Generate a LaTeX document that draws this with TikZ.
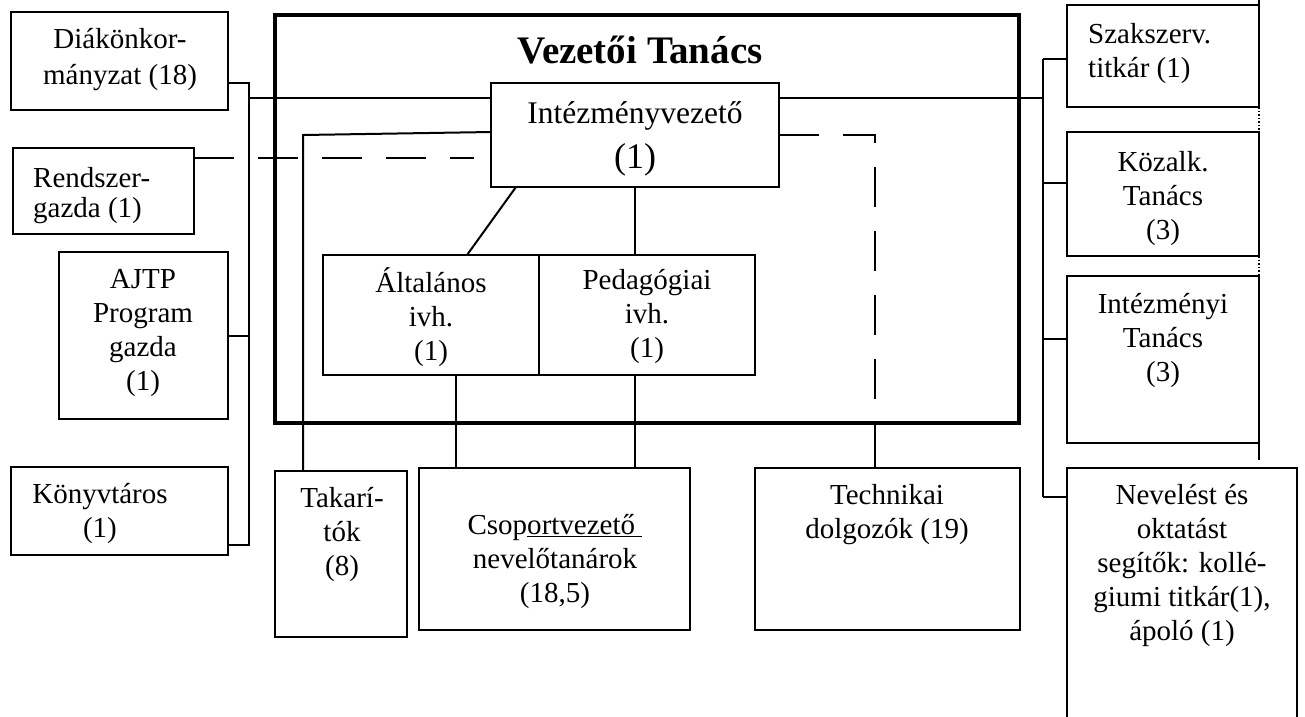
\documentclass[tikz,border=0pt]{standalone}
\usepackage{fontspec}
\setmainfont{Liberation Serif}
\usetikzlibrary{calc}
\newcommand\bxstrut{\rule[-0.5em]{0pt}{1.45em}}
\begin{document}
\begin{tikzpicture}[x=1pt,y=-1pt,
  box/.style={draw, line width=2pt, inner sep=0pt, outer sep=0pt},
  bigbox/.style={draw, line width=3.5pt, inner sep=0pt, outer sep=0pt},
  txt/.style={align=center, inner sep=0pt, font=\fontsize{29}{34}\selectfont,
    execute at begin node=\bxstrut, execute at end node=\bxstrut, yshift=-5pt},
  conn/.style={line width=2pt},
  wdash/.style={line width=2pt, dash pattern=on 40pt off 24pt},
  edge/.style={line width=1.5pt}
]
\useasboundingbox (0,0) rectangle (1305,716);

% ---- boxes
\node[bigbox, minimum width=744, minimum height=408] (vt) at (647,219) {};
\node[box, minimum width=217, minimum height=98]  (dk) at (119.5,61) {};
\node[box, minimum width=181, minimum height=86]  (rg) at (103.5,191) {};
\node[box, minimum width=169, minimum height=167] (aj) at (143.5,335.5) {};
\node[box, minimum width=217, minimum height=88]  (kv) at (119.5,511) {};
\node[box, minimum width=288, minimum height=104, fill=white] (iv) at (635,135) {};
\node[box, minimum width=216, minimum height=120] (ah) at (431,315) {};
\node[box, minimum width=216, minimum height=120] (pe) at (647,315) {};
\node[box, minimum width=132, minimum height=166] (tk) at (340.5,554) {};
\node[box, minimum width=271, minimum height=162] (cs) at (554.5,548.5) {};
\node[box, minimum width=265, minimum height=162] (te) at (887,548.5) {};
\node[box, minimum width=192, minimum height=102] (sz) at (1163,56) {};
\node[box, minimum width=192, minimum height=124] (ko) at (1163,194) {};
\node[box, minimum width=192, minimum height=167] (it) at (1163,359.5) {};
\node[box, minimum width=230, minimum height=252] (nv) at (1182,594) {};

% ---- texts
\node[inner sep=0pt, font=\fontsize{39}{46}\selectfont\bfseries] (vt-t) at (640,50) {Vezetői Tanács};
\node[txt, font=\fontsize{29}{36}\selectfont] (dk-t) at (120,59) {Diákönkor-\\mányzat (18)};
\node[txt, font=\fontsize{29}{30}\selectfont, align=left, anchor=west] (rg-t) at (33,195) {Rendszer-\\gazda (1)};
\node[txt] (aj-t) at (143,332) {AJTP\\Program\\gazda\\(1)};
\node[txt] (kv-t) at (100,513) {Könyvtáros\\(1)};
\node[txt, font=\fontsize{31.5}{38}\selectfont, yshift=2pt] (iv-t1) at (635,113) {Intézményvezető};
\node[txt, font=\fontsize{36}{43}\selectfont, yshift=2pt] (iv-t2) at (635,157) {(1)};
\node[txt, yshift=2pt] (ah-t) at (431,318) {Általános\\ivh.\\(1)};
\node[txt, yshift=2pt] (pe-t) at (647,318) {Pedagógiai\\ivh.\\(1)};
\node[txt] (tk-t) at (342,534) {Takarí-\\tók\\(8)};
\node[txt] (cs-t) at (555,561) {Csop\underline{ortvezető\ }\\nevelőtanárok\\(18,5)};
\node[txt] (te-t) at (887,514) {Technikai\\dolgozók (19)};
\node[txt, align=left, anchor=west] (sz-t) at (1088,53) {Szakszerv.\\titkár (1)};
\node[txt] (ko-t) at (1163,198) {Közalk.\\Tanács\\(3)};
\node[txt] (it-t) at (1163,340) {Intézményi\\Tanács\\(3)};
\node[txt] (nv-t) at (1182,565) {Nevelést és\\oktatást\\segítők: kollé-\\giumi titkár(1),\\ápoló (1)};

% ---- coordinates for buses
\coordinate (lb1) at (249,83);
\coordinate (lb2) at (249,545);
\coordinate (h1) at (249,98);
\coordinate (rb0) at (1043,98);
\coordinate (rsz) at (1043,59);
\coordinate (rko) at (1043,183);
\coordinate (rit) at (1043,339);
\coordinate (rnv) at (1043,497);
\coordinate (tkc) at (303,135);
\coordinate (dl) at (474,158);
\coordinate (dr) at (875,135);
\coordinate (a1) at (456,375);

% ---- left side connectors
\draw[conn] (dk.east |- lb1) -- (lb1) -- (lb2) -- (kv.east |- lb2);
\draw[conn] (aj.east) -- (aj.east -| lb1);
\draw[conn] (h1) -- (iv.west |- h1);
\draw[conn] (iv.west |- 0,132) -- (tkc) -- (tkc |- tk.north);
\draw[wdash] (dl -| rg.east) -- (dl);

% ---- right side connectors
\draw[conn] (iv.east |- rb0) -- (rb0);
\draw[conn] (rsz) -- (rnv);
\draw[conn] (rsz) -- (rsz -| sz.west);
\draw[conn] (rko) -- (rko -| ko.west);
\draw[conn] (rit) -- (rit -| it.west);
\draw[conn] (rnv) -- (rnv -| nv.west);
\draw[wdash] (iv.east) -- (dr) -- (dr |- vt.south);
\draw[conn] (dr |- vt.south) -- (dr |- te.north);

% ---- inner connectors
\draw[conn] ([xshift=25pt]iv.south west) -- ([xshift=36pt]ah.north);
\draw[conn] (iv.south) -- (iv.south |- pe.north);
\draw[conn] (a1) -- (a1 |- cs.north);
\draw[conn] (iv.south |- pe.south) -- (iv.south |- cs.north);

% ---- right-edge remnants
\draw[edge] (sz.north east) -- (sz.north east |- 0,0);
\draw[edge, dotted] (sz.south east) -- (ko.north east);
\draw[edge, dotted] (ko.south east) -- (it.north east);
\draw[edge] (it.south east) -- ++(0,17);
\end{tikzpicture}
\end{document}
